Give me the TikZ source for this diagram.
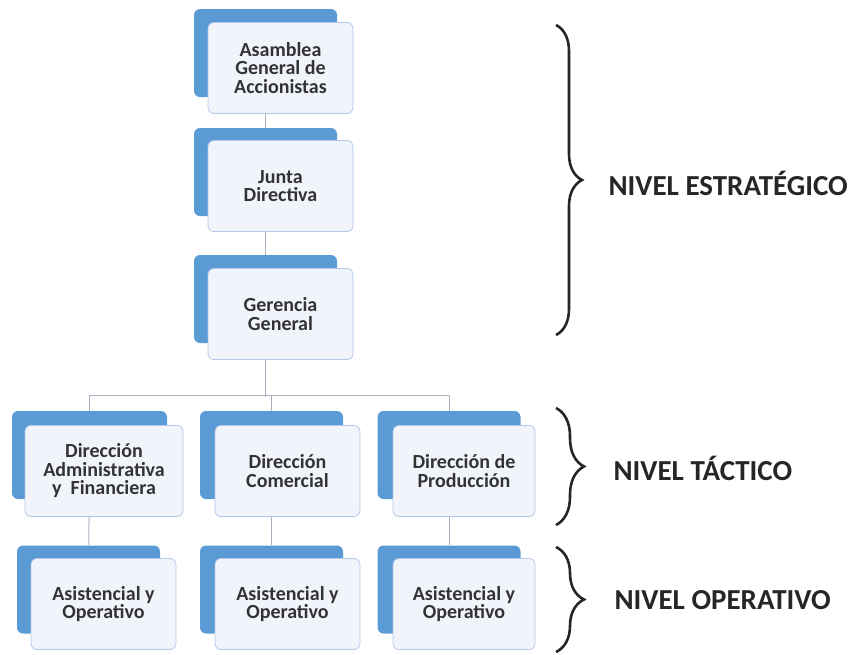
\documentclass[tikz,border=0pt]{standalone}
\usepackage{fontspec}
\setmainfont{Carlito}
\usetikzlibrary{decorations.pathreplacing, backgrounds}
\definecolor{boxblue}{HTML}{5B9BD5}
\definecolor{boxfill}{HTML}{F1F5FB}
\definecolor{boxline}{HTML}{B4C7E7}
\definecolor{linkgray}{HTML}{A9B1C2}
\definecolor{textgray}{HTML}{333333}

\begin{document}
\begin{tikzpicture}[
  x=1pt, y=-1pt,
  back/.style={fill=boxblue, rounded corners=6pt, minimum width=143pt, minimum height=88pt, inner sep=0pt},
  front/.style={draw=boxline, fill=boxfill, rounded corners=6pt, minimum width=145pt, minimum height=91pt, inner sep=0pt, align=center, text=textgray, font=\fontsize{20}{18.5}\selectfont\bfseries, line width=0.8pt},
  link/.style={draw=linkgray, line width=1pt},
  brace/.style={decorate, decoration={brace, amplitude=28pt}, line width=2.6pt, black!85},
  level/.style={anchor=west, font=\fontsize{29}{30}\selectfont\bfseries, text=black!85}
]
\useasboundingbox (0,0) rectangle (859,654);

\node[back] (asamblea-b) at (265.5,53) {};
\node[front] (asamblea) at (280.5,68) {Asamblea\\General de\\Accionistas};
\node[back] (junta-b) at (265.5,172) {};
\node[front] (junta) at (280.5,186) {Junta\\Directiva};
\node[back] (gerencia-b) at (265.5,299) {};
\node[front] (gerencia) at (280.5,314) {Gerencia\\General};

\node[back, minimum width=155pt] (dadm-b) at (89.5,455) {};
\node[front, minimum width=158pt] (dadm) at (104,471) {Dirección\\Administrativa\\y\ \ Financiera};
\node[back] (dcom-b) at (271.5,455) {};
\node[front] (dcom) at (287.5,471) {Dirección\\Comercial};
\node[back] (dprod-b) at (449,455) {};
\node[front, minimum width=142pt] (dprod) at (464,471) {Dirección de\\Producción};

\node[back] (op1-b) at (88.5,589.5) {};
\node[front] (op1) at (103.5,604) {Asistencial y\\Operativo};
\node[back] (op2-b) at (271.5,589.5) {};
\node[front] (op2) at (287.5,604) {Asistencial y\\Operativo};
\node[back] (op3-b) at (449,589.5) {};
\node[front, minimum width=142pt] (op3) at (464,604) {Asistencial y\\Operativo};

\begin{scope}[on background layer]
\draw[link] (asamblea-b) -- (junta-b);
\draw[link] (junta-b) -- (gerencia-b);
\draw[link] (gerencia-b.south) -- (gerencia-b.south |- 0,397);
\draw[link] (dadm-b.north) -- ++(0,-15) -| (dprod-b.north);
\draw[link] (dcom-b.north) -- ++(0,-15);
\draw[link] (dadm-b) -- (op1-b);
\draw[link] (dcom-b) -- (op2-b);
\draw[link] (dprod-b) -- (op3-b);
\end{scope}

\draw[brace, decoration={amplitude=26pt}] (556,25) -- (556,335);
\draw[brace] (556,408) -- (556,525);
\draw[brace] (556,547) -- (556,652);

\node[level] (estrategico) at (605,183) {NIVEL ESTRATÉGICO};
\node[level] (tactico) at (610,468) {NIVEL TÁCTICO};
\node[level] (operativo) at (611,600) {NIVEL OPERATIVO};
\end{tikzpicture}
\end{document}
